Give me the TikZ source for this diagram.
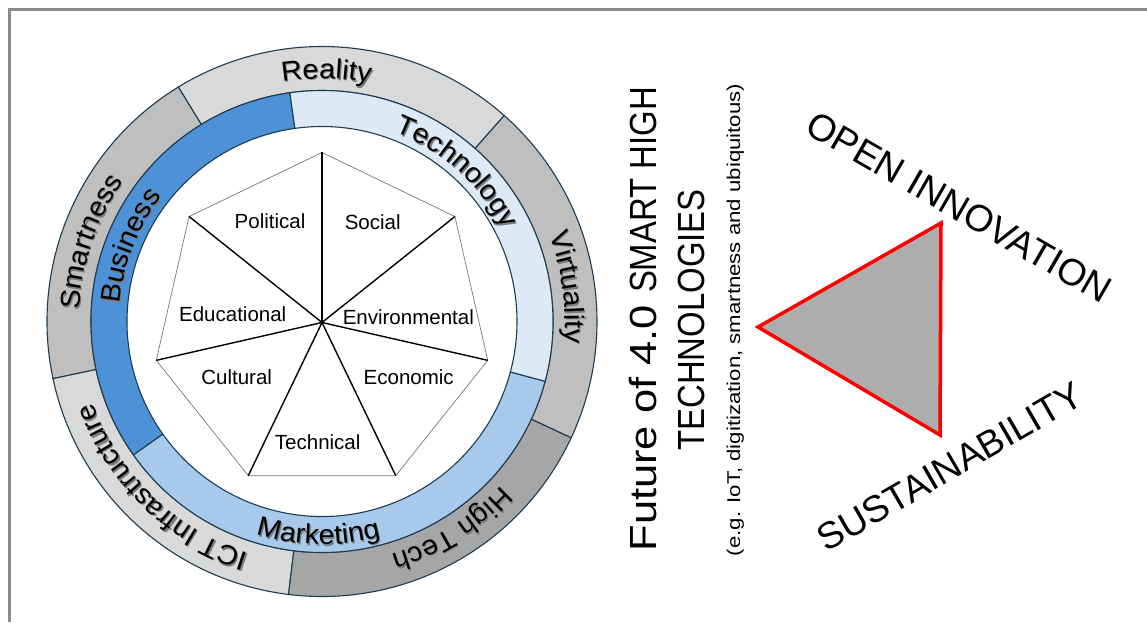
\documentclass[tikz,border=0pt]{standalone}
\usepackage{fontspec}
\setmainfont{Liberation Sans}
\newfontfamily\ringfam[FakeStretch=1.05]{Liberation Sans}
\newfontfamily\capfam[FakeStretch=0.87]{Liberation Sans}
\newfontfamily\lowfam[FakeStretch=1.15]{Liberation Sans}
\newfontfamily\subfam[FakeStretch=1.2]{Liberation Sans}
\usetikzlibrary{decorations.text}
\definecolor{framecol}{HTML}{8C8C8C}
\definecolor{ringline}{HTML}{1E3B4F}
\definecolor{grayA}{HTML}{D9D9D9}
\definecolor{grayB}{HTML}{BFBFBF}
\definecolor{grayC}{HTML}{A6A6A6}
\definecolor{blueA}{HTML}{4D92D6}
\definecolor{blueB}{HTML}{DDEAF6}
\definecolor{blueC}{HTML}{A7CAEC}
\definecolor{heptline}{HTML}{6A7B8A}
\definecolor{trifill}{HTML}{ADADAD}
\definecolor{shadowcol}{HTML}{7A7A7A}
\newcommand\ringfont{\ringfam\fontsize{27.5}{32}\selectfont}
\newcommand\sector[5]{% color, a1, a2, r1, r2
  \filldraw[fill=#1, draw=ringline, line width=1.1pt] (#2:#4) arc[start angle=#2, end angle=#3, radius=#4] -- (#3:#5) arc[start angle=#3, end angle=#2, radius=#5] -- cycle;}
\newcommand\cwlabel[4]{% center angle, radius, half span, text
  \path[shift={(1.2,-1.4)}, opacity=0.35, decorate, decoration={text along path, text align=center, text color=shadowcol, text={|\ringfont|#4}}] ({#1+#3}:#2) arc[start angle={#1+#3}, end angle={#1-#3}, radius=#2];
  \path[decorate, decoration={text along path, text align=center, text={|\ringfont|#4}}] ({#1+#3}:#2) arc[start angle={#1+#3}, end angle={#1-#3}, radius=#2];}
\newcommand\ccwlabel[4]{%
  \path[shift={(1.2,-1.4)}, opacity=0.35, decorate, decoration={text along path, text align=center, text color=shadowcol, text={|\ringfont|#4}}] ({#1-#3}:#2) arc[start angle={#1-#3}, end angle={#1+#3}, radius=#2];
  \path[decorate, decoration={text along path, text align=center, text={|\ringfont|#4}}] ({#1-#3}:#2) arc[start angle={#1-#3}, end angle={#1+#3}, radius=#2];}
\begin{document}
\begin{tikzpicture}[x=1pt, y=1pt,
  spoke/.style={black, line width=1.4pt},
  heptedge/.style={heptline, line width=0.7pt},
  hlabel/.style={font=\fontsize{20.5}{24}\selectfont, inner sep=0pt},
  bigcap/.style={font=\fontsize{37.5}{44}\selectfont, inner sep=0pt}]
\path[use as bounding box] (0,0) rectangle (1147,622);
\fill[white] (0,0) rectangle (1147,622);
\draw[framecol, line width=3pt] (9.5,0) -- (9.5,612) -- (1147,612);

\begin{scope}[shift={(322,300.5)}]
  % outer gray ring
  \sector{grayA}{48.5}{121.5}{275}{231}
  \sector{grayB}{121.5}{192}{275}{231}
  \sector{grayA}{192}{263}{275}{231}
  \sector{grayC}{263}{335}{275}{231}
  \sector{grayB}{335}{408.5}{275}{231}
  % blue ring
  \sector{blueA}{98}{215.3}{231}{195}
  \sector{blueC}{215.3}{345}{231}{195}
  \sector{blueB}{345}{458}{231}{195}
  % ring labels
  \cwlabel{89}{243}{40}{Reality}
  \cwlabel{8}{243}{45}{Virtuality}
  \cwlabel{-58}{243}{45}{High Tech}
  \cwlabel{226}{243}{60}{ICT Infrastructure}
  \cwlabel{161}{243}{45}{Smartness}
  \cwlabel{48}{203}{50}{Technology}
  \cwlabel{158.5}{203}{45}{Business}
  \ccwlabel{269}{223}{45}{Marketing}
\end{scope}

\begin{scope}[shift={(322,299.5)}]
  \coordinate (hc) at (0,0);
  \foreach \k in {0,...,6} {\coordinate (h\k) at ({90-\k*360/7}:170);}
  \draw[heptedge] (h0) -- (h1) -- (h2) -- (h3) -- (h4) -- (h5) -- (h6) -- cycle;
  \foreach \k in {0,...,6} {\draw[spoke] (hc) -- (h\k);}
  \node[hlabel] (lpol) at (-52,101.8) {Political};
  \node[hlabel] (lsoc) at (50.7,100.8) {Social};
  \node[hlabel] (ledu) at (-89.3,8.5) {Educational};
  \node[hlabel] (lenv) at (86.3,5.8) {Environmental};
  \node[hlabel] (lcul) at (-85.3,-54.8) {Cultural};
  \node[hlabel] (leco) at (86.7,-54.8) {Economic};
  \node[hlabel] (ltec) at (-4.3,-119.2) {Technical};
\end{scope}

% title
\node[rotate=90, inner sep=0pt, font=\fontsize{37.8}{44}\selectfont] (t1) at (643.3,302.7) {{\lowfam Future of 4.0 }{\capfam SMART HIGH}};
\node[rotate=90, inner sep=0pt, font=\fontsize{37.8}{44}\selectfont\capfam] (t2) at (691.7,302) {TECHNOLOGIES};
\node[rotate=90, inner sep=0pt, font=\fontsize{18.5}{22}\selectfont\subfam] (t3) at (735.3,302) {(e.g. IoT, digitization, smartness and ubiquitous)};

% triangle
\coordinate (ta) at (758,295);
\coordinate (tb) at (941,399);
\coordinate (tc) at (940,187);
\filldraw[fill=trifill, draw=red, line width=3.5pt, line join=miter] (ta) -- (tb) -- (tc) -- cycle;

\node[bigcap, rotate=-30] (oi) at (959,415) {OPEN INNOVATION};
\node[bigcap, rotate=30] (su) at (950,155.3) {SUSTAINABILITY};
\end{tikzpicture}
\end{document}
